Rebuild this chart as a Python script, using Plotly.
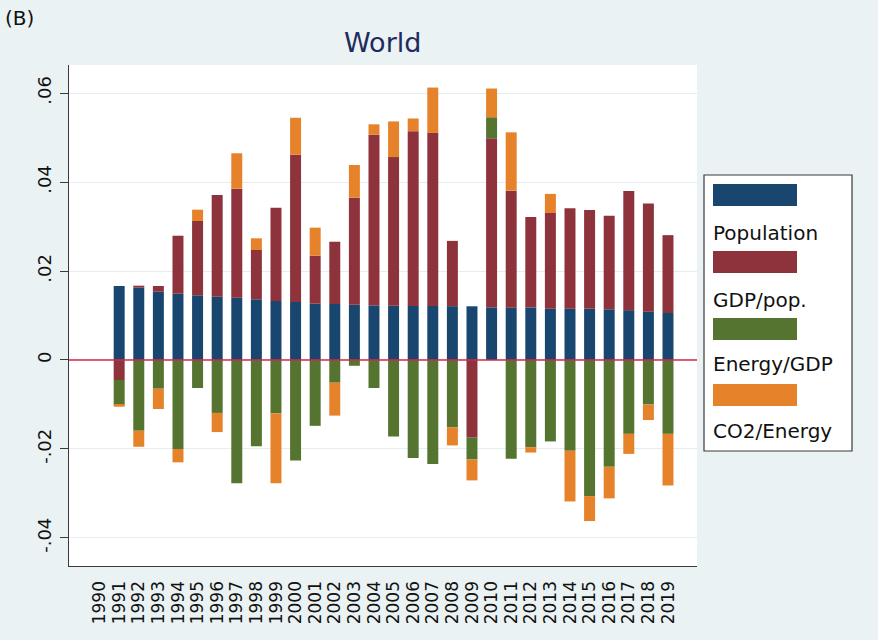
import plotly.graph_objects as go

years = [str(y) for y in range(1990, 2020)]

population = [None, 0.01663, 0.01625, 0.01535, 0.0149, 0.01454, 0.01422, 0.0140, 0.01364, 0.01326,
              0.01303, 0.01265, 0.01258, 0.01243, 0.01229, 0.0122, 0.01213, 0.01213, 0.0121, 0.01207,
              0.01184, 0.01176, 0.01183, 0.01153, 0.01153, 0.0115, 0.0114, 0.0112, 0.01086, 0.01056]
gdp_pop = [None, -0.0045, 0.00045, 0.00128, 0.01303, 0.0167, 0.02285, 0.0245, 0.01108, 0.02097,
           0.0331, 0.01079, 0.0140, 0.02404, 0.03834, 0.0334, 0.0393, 0.0389, 0.01467, -0.01746,
           0.0380, 0.0263, 0.0203, 0.0215, 0.0226, 0.0222, 0.0210, 0.0268, 0.0243, 0.0175]
energy_gdp = [None, -0.0056, -0.0159, -0.00645, -0.0200, -0.0063, -0.0119, -0.0277, -0.0194, -0.0120,
              -0.0226, -0.0148, -0.0051, -0.0013, -0.0063, -0.0172, -0.0220, -0.0234, -0.0151, -0.0049,
              0.00472, -0.0222, -0.0196, -0.0183, -0.0204, -0.0306, -0.0240, -0.0166, -0.0100, -0.0166]
co2_energy = [None, -0.0004, -0.0036, -0.00456, -0.0030, 0.00254, -0.0043, 0.00796, 0.00263, -0.0157,
              0.00831, 0.0063, -0.0074, 0.00735, 0.00234, 0.00802, 0.00285, 0.0102, -0.0041, -0.0047,
              0.00645, 0.0131, -0.0012, 0.0043, -0.0114, -0.0056, -0.0071, -0.0045, -0.0035, -0.0116]

series_names = ["Population", "GDP/pop.", "Energy/GDP", "CO2/Energy"]
series_values = [population, gdp_pop, energy_gdp, co2_energy]
colors = ["#18466E", "#8E323C", "#55742F", "#E5822A"]

ytick_vals = [-0.04, -0.02, 0, 0.02, 0.04, 0.06]
ytick_text = ["-.04", "-.02", "0", ".02", ".04", ".06"]

FONT = "DejaVu Sans"

fig = go.Figure()
for name, vals, col in zip(series_names, series_values, colors):
    fig.add_trace(go.Bar(x=years, y=vals, name=name, marker=dict(color=col, line=dict(width=0)),
                         showlegend=False))

# plot area pixel geometry for paper-coordinate helpers
L, R, T, B = 69, 697, 65, 566
W, H = 878, 640
def fx(px):
    return (px - L) / (R - L)
def fy(py):
    return (B - py) / (B - T)

shapes = []
# zero line
shapes.append(dict(type="line", xref="paper", yref="y", x0=0, x1=1, y0=0, y1=0,
                   line=dict(color="#D42A48", width=1.6), layer="above"))
# legend box
shapes.append(dict(type="rect", xref="paper", yref="paper", x0=fx(704), x1=fx(852),
                   y0=fy(451), y1=fy(175), line=dict(color="#3a3a3a", width=1.2),
                   fillcolor="white", layer="above"))
sw_tops = [184, 251, 318, 384]
label_y = [233, 300, 364, 431]
annotations = []
for i, (name, col) in enumerate(zip(series_names, colors)):
    shapes.append(dict(type="rect", xref="paper", yref="paper", x0=fx(713), x1=fx(797),
                       y0=fy(sw_tops[i] + 22), y1=fy(sw_tops[i]), line=dict(width=0),
                       fillcolor=col, layer="above"))
    annotations.append(dict(text=name, xref="paper", yref="paper", x=fx(711), y=fy(label_y[i]),
                            xanchor="left", yanchor="middle", showarrow=False,
                            font=dict(family=FONT, size=20, color="#111111")))

annotations.append(dict(text="World", xref="paper", yref="paper", x=fx(382), y=fy(43),
                        xanchor="center", yanchor="middle", showarrow=False,
                        font=dict(family=FONT, size=27, color="#1E2B5E")))
annotations.append(dict(text="(B)", xref="paper", yref="paper", x=fx(3), y=fy(18),
                        xanchor="left", yanchor="middle", showarrow=False,
                        font=dict(family=FONT, size=20, color="#111111")))

fig.update_layout(
    width=W, height=H,
    barmode="relative",
    bargap=0.44,
    paper_bgcolor="#EAF2F3",
    plot_bgcolor="white",
    margin=dict(l=L, r=W - R, t=T, b=H - B, pad=0),
    font=dict(family=FONT, size=17, color="#111111"),
    shapes=shapes,
    annotations=annotations,
    xaxis=dict(type="category", categoryorder="array", categoryarray=years,
               tickvals=years, ticktext=years, range=[-1.56, 30.48],
               tickangle=-90, showgrid=False, zeroline=False,
               showline=True, linecolor="#3a3a3a", linewidth=1.4,
               ticks="outside", ticklen=7, tickcolor="rgba(0,0,0,0)",
               tickfont=dict(family=FONT, size=17, color="#111111")),
    yaxis=dict(range=[-0.0463, 0.0663], tickvals=ytick_vals, ticktext=ytick_text,
               tickangle=-90, showgrid=True, gridcolor="#E3EEF1", gridwidth=1,
               zeroline=False, showline=True, linecolor="#3a3a3a", linewidth=1.4,
               ticks="outside", ticklen=8, tickcolor="#3a3a3a", tickwidth=1.2,
               ticklabelstandoff=2,
               tickfont=dict(family=FONT, size=18, color="#111111")),
)

fig.write_html("out.html", config={"displayModeBar": False},
               post_script="document.body.style.margin='0';document.body.style.overflow='hidden';")
